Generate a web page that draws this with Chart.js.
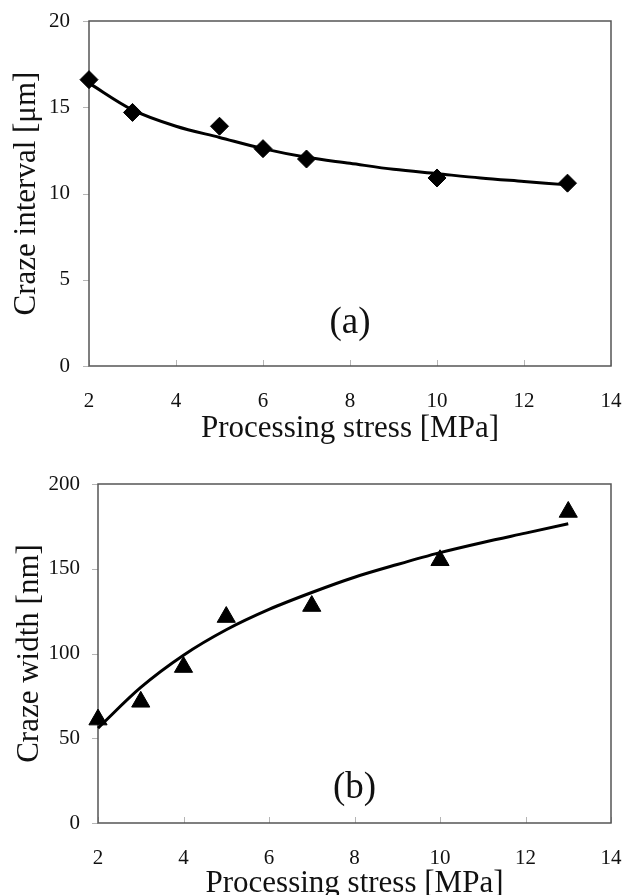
<!DOCTYPE html>
<html>
<head>
<meta charset="utf-8">
<script src="https://cdn.jsdelivr.net/npm/chart.js@4/dist/chart.umd.min.js"></script>
<style>
  html, body { margin: 0; padding: 0; background: #fff; overflow: hidden; }
  #wrapA { position: absolute; left: 0; top: 0; width: 623px; height: 450px; }
  #wrapB { position: absolute; left: 0; top: 450px; width: 623px; height: 470px; }
</style>
</head>
<body>
<div id="wrapA"><canvas id="chartA" width="623" height="450"></canvas></div>
<div id="wrapB"><canvas id="chartB" width="623" height="470"></canvas></div>
<script>
// (a) craze interval
const stressA = [2, 3, 5, 6, 7, 10, 13];
const intervalA = [16.6, 14.7, 13.9, 12.6, 12.0, 10.9, 10.6];
const fitStress = [2, 3, 4, 5, 6, 7, 8, 9, 10, 11, 12, 13];
const intervalFit = [16.4, 14.85, 13.9, 13.25, 12.6, 12.1, 11.75, 11.4, 11.15, 10.9, 10.7, 10.5];

// (b) craze width
const stressB = [2, 3, 4, 5, 7, 10, 13];
const widthB = [61, 71.5, 92, 121.5, 128, 155, 183.5];
const widthFit = [56, 80, 99, 114, 126, 136, 145, 152.5, 159.5, 165.5, 171, 176.5];

const xTicks = [2, 4, 6, 8, 10, 12, 14];
const xTitle = 'Processing stress [MPa]';

const FONT = "'Liberation Serif', 'Times New Roman', serif";
Chart.defaults.font.family = FONT;
Chart.defaults.color = '#111';

const toPoints = (xs, ys) => xs.map((x, i) => ({ x: x, y: ys[i] }));

// keep tick labels from pushing the plot box around
function fixBox(s, prop, size) {
    s[prop] = size;
    s.paddingTop = s.paddingBottom = s.paddingLeft = s.paddingRight = 0;
}

// frame, small tick marks and the panel letter
const framePlugin = {
    id: 'frame',
    beforeDatasetsDraw(chart) {
        const { ctx, chartArea: a, scales: { x, y } } = chart;
        ctx.save();
        ctx.strokeStyle = '#b5b5b5';
        ctx.lineWidth = 1;
        x.ticks.forEach(t => {
            const px = Math.round(x.getPixelForValue(t.value)) + 0.5;
            ctx.beginPath();
            ctx.moveTo(px, a.bottom);
            ctx.lineTo(px, a.bottom - 6);
            ctx.stroke();
        });
        y.ticks.forEach(t => {
            const py = Math.round(y.getPixelForValue(t.value)) + 0.5;
            ctx.beginPath();
            ctx.moveTo(a.left, py);
            ctx.lineTo(a.left - 6, py);
            ctx.stroke();
        });
        ctx.strokeStyle = '#555';
        ctx.lineWidth = 1.5;
        ctx.strokeRect(a.left, a.top, a.width, a.height);
        ctx.restore();
    },
    afterDraw(chart, args, opts) {
        const { ctx, scales: { x, y } } = chart;
        ctx.save();
        ctx.font = '37px ' + FONT;
        ctx.fillStyle = '#111';
        ctx.textAlign = 'center';
        ctx.textBaseline = 'middle';
        ctx.fillText(opts.label, x.getPixelForValue(opts.at[0]), y.getPixelForValue(opts.at[1]));
        ctx.restore();
    }
};

function makeChart(id, cfg) {
    return new Chart(document.getElementById(id), {
        type: 'scatter',
        data: {
            datasets: [{
                label: 'fit',
                data: toPoints(fitStress, cfg.fit),
                showLine: true,
                borderColor: '#000',
                borderWidth: 3,
                pointRadius: 0,
                tension: 0.4,
                cubicInterpolationMode: 'monotone',
                clip: false
            }, {
                label: 'measured',
                data: toPoints(cfg.xs, cfg.ys),
                pointStyle: cfg.marker,
                pointRadius: cfg.markerSize,
                backgroundColor: '#000',
                borderColor: '#000',
                borderWidth: 1,
                clip: false
            }]
        },
        options: {
            responsive: false,
            animation: false,
            devicePixelRatio: 1,
            layout: { autoPadding: false, padding: { top: cfg.padTop, right: 12, left: 0, bottom: 0 } },
            plugins: {
                legend: { display: false },
                tooltip: { enabled: false },
                frame: { label: cfg.label, at: cfg.labelAt }
            },
            scales: {
                x: {
                    type: 'linear',
                    min: 2,
                    max: 14,
                    afterBuildTicks: s => { s.ticks = xTicks.map(v => ({ value: v })); },
                    grid: { display: false, drawTicks: false },
                    border: { display: false },
                    ticks: { padding: 23, font: { size: 21 }, color: '#111', maxRotation: 0 },
                    title: { display: true, text: xTitle, font: { size: 31 }, color: '#111', padding: { top: 0, bottom: cfg.xTitlePad } },
                    afterFit: s => fixBox(s, 'height', cfg.xHeight)
                },
                y: {
                    min: 0,
                    max: cfg.yMax,
                    ticks: { stepSize: cfg.yStep, padding: cfg.yTickPad, font: { size: 21 }, color: '#111' },
                    grid: { display: false, drawTicks: false },
                    border: { display: false },
                    title: { display: true, text: cfg.yTitle, font: { size: 31 }, color: '#111', padding: { top: cfg.yTitlePad, bottom: 0 } },
                    afterFit: s => fixBox(s, 'width', cfg.yWidth)
                }
            }
        },
        plugins: [framePlugin]
    });
}

makeChart('chartA', {
    xs: stressA, ys: intervalA, fit: intervalFit,
    marker: 'rectRot', markerSize: 9,
    yMax: 20, yStep: 5, yTitle: 'Craze interval [μm]',
    label: '(a)', labelAt: [8, 2.5],
    padTop: 21, xHeight: 84, yWidth: 89,
    xTitlePad: 3, yTitlePad: 8, yTickPad: 19
});

makeChart('chartB', {
    xs: stressB, ys: widthB, fit: widthFit,
    marker: 'triangle', markerSize: 10.5,
    yMax: 200, yStep: 50, yTitle: 'Craze width [nm]',
    label: '(b)', labelAt: [8, 20.5],
    padTop: 34, xHeight: 97, yWidth: 98,
    xTitlePad: 18, yTitlePad: 11, yTickPad: 18
});
</script>
</body>
</html>
